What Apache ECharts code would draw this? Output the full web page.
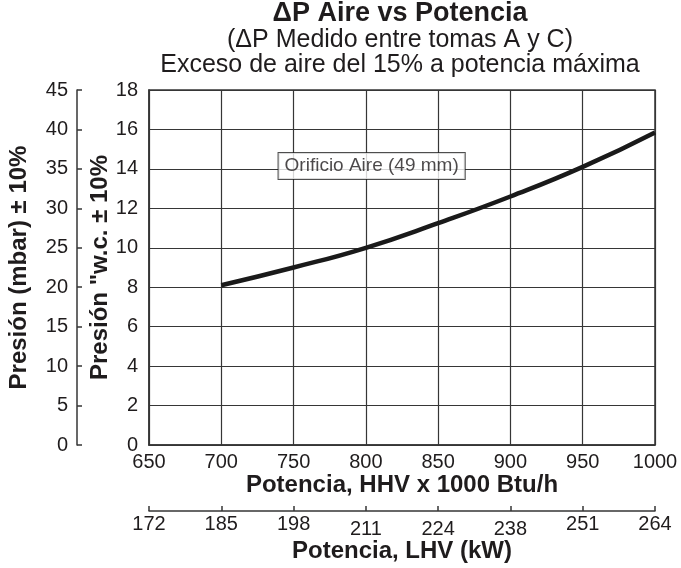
<!DOCTYPE html>
<html>
<head>
<meta charset="utf-8">
<script src="https://cdn.jsdelivr.net/npm/echarts@6/dist/echarts.min.js"></script>
<style>html,body{margin:0;padding:0;background:#fff}#c{width:681px;height:568px}</style>
</head>
<body>
<div id="c"></div>
<script>
// Data
var hhvPower = [700, 750, 800, 850, 900, 950, 1000];
var pressureWC = [8.1, 9.0, 10.0, 11.25, 12.6, 14.1, 15.85];
var lhvTickLabels = ['172', '185', '198', '211', '224', '238', '251', '264'];
var lhvLoweredLabels = ['211', '224', '238'];
var hhvTicks = [650, 700, 750, 800, 850, 900, 950, 1000];
var annotationText = 'Orificio Aire (49 mm)';
var annotationPoint = [804, 14.15];

var FONT = '"Liberation Sans", Arial, Helvetica, sans-serif';
var TXT = '#1f1c1d';
var LINE = '#363636';

var chart = echarts.init(document.getElementById('c'), null, {renderer: 'canvas'});
chart.setOption({
  animation: false,
  backgroundColor: '#fff',
  textStyle: {fontFamily: FONT, color: TXT},
  title: {
    text: 'ΔP Aire vs Potencia',
    subtext: '(ΔP Medido entre tomas A y C)\nExceso de aire del 15% a potencia máxima',
    left: 400, top: 0, textAlign: 'center', padding: 0,
    itemGap: 1,
    textStyle: {fontFamily: FONT, fontSize: 27, fontWeight: 'bold', color: TXT, lineHeight: 27},
    subtextStyle: {fontFamily: FONT, fontSize: 25, color: TXT, lineHeight: 25}
  },
  grid: {left: 149, right: 26, top: 90, bottom: 123, show: true, borderColor: LINE, borderWidth: 1.5,
    containLabel: false, outerBoundsMode: 'none'},
  xAxis: [{
    type: 'value', min: 650, max: 1000, interval: 50, position: 'bottom',
    axisLine: {show: true, onZero: false, lineStyle: {color: LINE, width: 1.5}},
    axisTick: {show: false},
    splitLine: {show: true, lineStyle: {color: LINE, width: 1.2}},
    axisLabel: {fontFamily: FONT, fontSize: 20, color: TXT, margin: 7, formatter: function (v) { return String(v); }},
    name: 'Potencia, HHV x 1000 Btu/h', nameLocation: 'middle', nameGap: 28, nameMoveOverlap: false,
    nameTextStyle: {fontFamily: FONT, fontSize: 24, fontWeight: 'bold', color: TXT}
  }, {
    type: 'value', min: 650, max: 1000, interval: 50, position: 'bottom', offset: 66,
    axisLine: {show: true, onZero: false, lineStyle: {color: LINE, width: 1.5}},
    axisTick: {show: true, inside: true, length: 5, lineStyle: {color: LINE, width: 1.5}},
    splitLine: {show: false},
    axisLabel: {fontFamily: FONT, fontSize: 20, color: TXT, margin: 3,
      formatter: function (v) {
        var i = hhvTicks.indexOf(v);
        if (i < 0) return '';
        var t = lhvTickLabels[i];
        return lhvLoweredLabels.indexOf(t) >= 0 ? '{low|' + t + '}' : t;
      },
      rich: {low: {fontFamily: FONT, fontSize: 20, color: TXT, padding: [5, 0, 0, 0]}}
    },
    name: 'Potencia, LHV (kW)', nameLocation: 'middle', nameGap: 28, nameMoveOverlap: false,
    nameTextStyle: {fontFamily: FONT, fontSize: 24, fontWeight: 'bold', color: TXT}
  }],
  yAxis: [{
    type: 'value', min: 0, max: 18, interval: 2, position: 'left',
    axisLine: {show: true, onZero: false, lineStyle: {color: LINE, width: 1.5}},
    axisTick: {show: false},
    splitLine: {show: true, lineStyle: {color: LINE, width: 1.2}},
    axisLabel: {fontFamily: FONT, fontSize: 20, color: TXT, margin: 11},
    name: 'Presión "w.c. ± 10%', nameLocation: 'middle', nameGap: 37, nameRotate: 90, nameMoveOverlap: false,
    nameTextStyle: {fontFamily: FONT, fontSize: 24, fontWeight: 'bold', color: TXT}
  }, {
    type: 'value', min: 0, max: 45, interval: 5, position: 'left', offset: 72,
    axisLine: {show: true, onZero: false, lineStyle: {color: LINE, width: 1.5}},
    axisTick: {show: true, inside: true, length: 5, lineStyle: {color: LINE, width: 1.5}},
    splitLine: {show: false},
    axisLabel: {fontFamily: FONT, fontSize: 20, color: TXT, margin: 9},
    name: 'Presión (mbar) ± 10%', nameLocation: 'middle', nameGap: 46, nameRotate: 90, nameMoveOverlap: false,
    nameTextStyle: {fontFamily: FONT, fontSize: 24, fontWeight: 'bold', color: TXT}
  }],
  series: [{
    type: 'line', xAxisIndex: 0, yAxisIndex: 0, smooth: true, symbol: 'none',
    data: hhvPower.map(function (x, i) { return [x, pressureWC[i]]; }),
    lineStyle: {color: '#1a1a1a', width: 4.5}
  }, {
    type: 'scatter', xAxisIndex: 0, yAxisIndex: 0, symbolSize: 0,
    data: [annotationPoint],
    label: {show: true, position: 'inside', formatter: annotationText,
      fontFamily: FONT, fontSize: 19, color: TXT, backgroundColor: '#fff',
      borderColor: '#222', borderWidth: 1, padding: [4, 6, 3, 6]}
  }]
});
</script>
</body>
</html>
